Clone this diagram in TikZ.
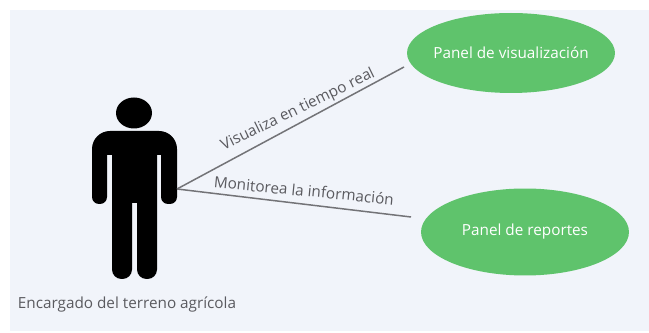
\documentclass[tikz,border=0pt]{standalone}
\usepackage{fontspec}
\setmainfont{Open Sans}
\usetikzlibrary{shapes.geometric}
\definecolor{fondo}{HTML}{F1F4FA}
\definecolor{verde}{HTML}{5FC36C}
\definecolor{gris}{HTML}{5A5A5F}
\tikzset{
    panel/.style={ellipse,fill=verde,text=white,inner sep=-8pt,font=\fontsize{8.7}{10}\selectfont},
    etiqueta/.style={text=gris,inner sep=0pt,font=\fontsize{8.7}{10}\selectfont},
    enlace/.style={draw=gris!85,line width=0.85pt}
}
\begin{document}
\begin{tikzpicture}[x=0.02cm,y=-0.02cm]
        \useasboundingbox (0,0) rectangle (649,333);
        \fill[fondo] (10,10) rectangle (649,331);
        \node[panel,minimum width=4.16cm,minimum height=1.6cm] (V) at (511,53) {Panel de visualización};
        \node[panel,minimum width=4.16cm,minimum height=1.74cm] (R) at (525,232) {Panel de reportes};
        \fill (134,113) ellipse (18 and 15.5);
        \fill[rounded corners=0.14cm] (107,155) -- (107,204) -- (92,204) [rounded corners=0.36cm] -- (92,131) -- (177,131) [rounded corners=0.14cm] -- (177,204) -- (161,204) [sharp corners] -- (161,155) -- (157,155) [rounded corners=0.19cm] -- (157,279) -- (137,279) [sharp corners] -- (137,203) -- (132,203) [rounded corners=0.19cm] -- (132,279) -- (112,279) [sharp corners] -- (112,155) -- cycle;
        \coordinate (M) at (177,189);
        \coordinate (A) at (404,67);
        \coordinate (B) at (411,217);
        \draw[enlace] (M) -- (A);
        \draw[enlace] (M) -- (B);
        \node[etiqueta,rotate=26] (E1) at (298,110) {Visualiza en tiempo real};
        \node[etiqueta,rotate=-5.5] (E2) at (304,190.5) {Monitorea la información};
        \node[etiqueta] (E3) at (127,304) {Encargado del terreno agrícola};
    \end{tikzpicture}
\end{document}
